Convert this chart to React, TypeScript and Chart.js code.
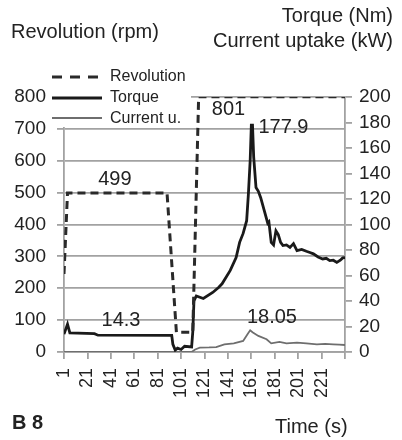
import React, { useEffect, useRef } from 'react';
import { Chart, registerables } from 'chart.js';

Chart.register(...registerables);

// ---- data ----
const xTickValues = [1, 21, 41, 61, 81, 101, 121, 141, 161, 181, 201, 221, 241];
const leftTicks = [0, 100, 200, 300, 400, 500, 600, 700, 800];
const rightTicks = [0, 20, 40, 60, 80, 100, 120, 140, 160, 180, 200];

const revolutionTime = [1, 4, 89, 97, 111, 116, 241];
const revolutionRpm = [245, 499, 499, 62, 62, 801, 801];

const torqueTime = [1, 4, 6, 27, 30, 93, 94, 96, 98, 101, 104, 110, 111, 112, 114, 120, 128, 133, 136, 143, 148, 151, 154, 157, 158.5, 160, 161, 162, 163, 165, 167, 169, 172, 175, 176, 178, 180, 182, 184, 186, 188, 191, 194, 197, 200, 204, 208, 211, 214, 218, 222, 225, 228, 231, 234, 237, 239, 241];
const torqueNm = [14, 21.8, 15, 14.4, 13.2, 13, 6, 1.5, 3, 2, 4.5, 4, 16, 40, 44, 42, 46.7, 50.6, 53.5, 64, 74, 86, 93, 103, 124, 150, 177.9, 177.9, 153, 129, 126, 121, 111, 101, 102, 86, 84, 95, 92, 86, 83.5, 84, 82, 85, 79.5, 80.5, 79, 78, 77, 74.5, 73, 73.5, 71.7, 72, 70.3, 72, 73.8, 74];

const currentTime = [1, 110, 113, 117, 125, 131, 138, 146, 154, 158, 160, 162, 167, 174, 178, 185, 191, 200, 208, 217, 224, 231, 236, 241];
const currentKw = [0, 0, 2, 3.4, 3.6, 3.9, 6, 6.8, 8.7, 14.4, 17, 15.5, 12.6, 10, 6.8, 7.9, 6.8, 7.3, 6.8, 6, 6.3, 6, 5.8, 5.5];

// value labels: [text, time, value, axis]
const valueLabels: [string, number, number, string][] = [
  ['499', 44.5, 541, 'y'],
  ['801', 141.5, 761, 'y'],
  ['177.9', 188.4, 176, 'y1'],
  ['14.3', 49.7, 24.4, 'y1'],
  ['18.05', 178.6, 26.8, 'y1'],
];

const FONT = "'Liberation Sans', Arial, Helvetica, sans-serif";
const TEXT = '#222222';
const GRID = '#a2a2a2';

const toPoints = (xs: number[], ys: number[]) => xs.map((x, i) => ({ x, y: ys[i] }));

const overlayPlugin = {
  id: 'overlay',
  afterDraw(chart: any) {
    const ctx = chart.ctx as CanvasRenderingContext2D;
    ctx.save();
    // value labels
    ctx.fillStyle = TEXT;
    ctx.font = `20px ${FONT}`;
    ctx.textAlign = 'center';
    ctx.textBaseline = 'middle';
    for (const [txt, t, v, ax] of valueLabels) {
      const px = chart.scales.x.getPixelForValue(t);
      const py = chart.scales[ax].getPixelForValue(v);
      ctx.fillText(txt, px, py);
    }
    // legend box
    ctx.fillStyle = '#ffffff';
    ctx.fillRect(48, 66, 143, 61);
    ctx.lineCap = 'butt';
    ctx.strokeStyle = '#2a2a2a';
    ctx.lineWidth = 3;
    ctx.setLineDash([10, 8]);
    ctx.beginPath(); ctx.moveTo(52, 77); ctx.lineTo(102, 77); ctx.stroke();
    ctx.setLineDash([]);
    ctx.strokeStyle = '#1a1a1a';
    ctx.beginPath(); ctx.moveTo(52, 98); ctx.lineTo(102, 98); ctx.stroke();
    ctx.strokeStyle = '#6e6e6e';
    ctx.lineWidth = 2;
    ctx.beginPath(); ctx.moveTo(52, 118); ctx.lineTo(102, 118); ctx.stroke();
    ctx.fillStyle = TEXT;
    ctx.font = `16px ${FONT}`;
    ctx.textAlign = 'left';
    ctx.fillText('Revolution', 110, 77);
    ctx.fillText('Torque', 110, 98);
    ctx.fillText('Current u.', 110, 119);
    // titles
    ctx.font = `20px ${FONT}`;
    ctx.textAlign = 'left';
    ctx.fillText('Revolution (rpm)', 11, 32);
    ctx.textAlign = 'right';
    ctx.fillText('Torque (Nm)', 393, 16);
    ctx.fillText('Current uptake (kW)', 393, 41);
    ctx.textAlign = 'left';
    ctx.fillText('Time (s)', 275, 427);
    ctx.font = `bold 20px ${FONT}`;
    ctx.fillText('B 8', 12, 423);
    ctx.restore();
  },
};

export default function App() {
  const ref = useRef<HTMLCanvasElement | null>(null);
  useEffect(() => {
    if (!ref.current) return;
    const chart = new Chart(ref.current, {
      type: 'line',
      data: {
        datasets: [
          {
            label: 'Revolution',
            data: toPoints(revolutionTime, revolutionRpm),
            yAxisID: 'y',
            borderColor: '#2a2a2a',
            borderWidth: 3,
            borderDash: [8, 5],
            pointRadius: 0,
            tension: 0,
            fill: false,
          },
          {
            label: 'Torque',
            data: toPoints(torqueTime, torqueNm),
            yAxisID: 'y1',
            borderColor: '#1a1a1a',
            borderWidth: 2.8,
            pointRadius: 0,
            tension: 0,
            fill: false,
          },
          {
            label: 'Current u.',
            data: toPoints(currentTime, currentKw),
            yAxisID: 'y1',
            borderColor: '#6e6e6e',
            borderWidth: 1.8,
            pointRadius: 0,
            tension: 0,
            fill: false,
          },
        ],
      },
      options: {
        responsive: false,
        animation: false,
        devicePixelRatio: 1,
        layout: { padding: { top: 97, left: 0, right: 0, bottom: 0 } },
        plugins: { legend: { display: false }, tooltip: { enabled: false } },
        scales: {
          x: {
            type: 'linear',
            min: 1,
            max: 241,
            afterBuildTicks: (scale: any) => {
              scale.ticks = xTickValues.map((v) => ({ value: v }));
            },
            afterFit: (scale: any) => {
              scale.height = 88;
            },
            grid: { drawOnChartArea: false, drawTicks: true, tickLength: 7, color: GRID, lineWidth: 1.8 },
            border: { display: true, color: GRID, width: 1.8 },
            ticks: {
              autoSkip: false,
              minRotation: 90,
              maxRotation: 90,
              padding: 9,
              color: TEXT,
              font: { family: FONT, size: 18 },
              callback: (v: any) => (v === 241 ? '' : String(v)),
            },
          },
          y: {
            type: 'linear',
            position: 'left',
            min: 0,
            max: 800,
            afterBuildTicks: (scale: any) => {
              scale.ticks = leftTicks.map((v) => ({ value: v }));
            },
            afterFit: (scale: any) => {
              scale.width = 64;
            },
            grid: { drawOnChartArea: true, drawTicks: true, tickLength: 7, color: GRID, lineWidth: 1.8 },
            border: { display: true, color: GRID, width: 1.8 },
            ticks: { autoSkip: false, padding: 11, color: TEXT, font: { family: FONT, size: 19 } },
          },
          y1: {
            type: 'linear',
            position: 'right',
            min: 0,
            max: 200,
            afterBuildTicks: (scale: any) => {
              scale.ticks = rightTicks.map((v) => ({ value: v }));
            },
            afterFit: (scale: any) => {
              scale.width = 57;
            },
            grid: { drawOnChartArea: false, drawTicks: true, tickLength: 7, color: GRID, lineWidth: 1.8 },
            border: { display: true, color: GRID, width: 1.8 },
            ticks: { autoSkip: false, padding: 7, color: TEXT, font: { family: FONT, size: 19 } },
          },
        },
      },
      plugins: [overlayPlugin],
    } as any);
    return () => chart.destroy();
  }, []);
  return (
    <div style={{ position: 'fixed', left: 0, top: 0, width: 402, height: 440, background: '#fff' }}>
      <canvas ref={ref} width={402} height={440} style={{ width: 402, height: 440, display: 'block' }} />
    </div>
  );
}
